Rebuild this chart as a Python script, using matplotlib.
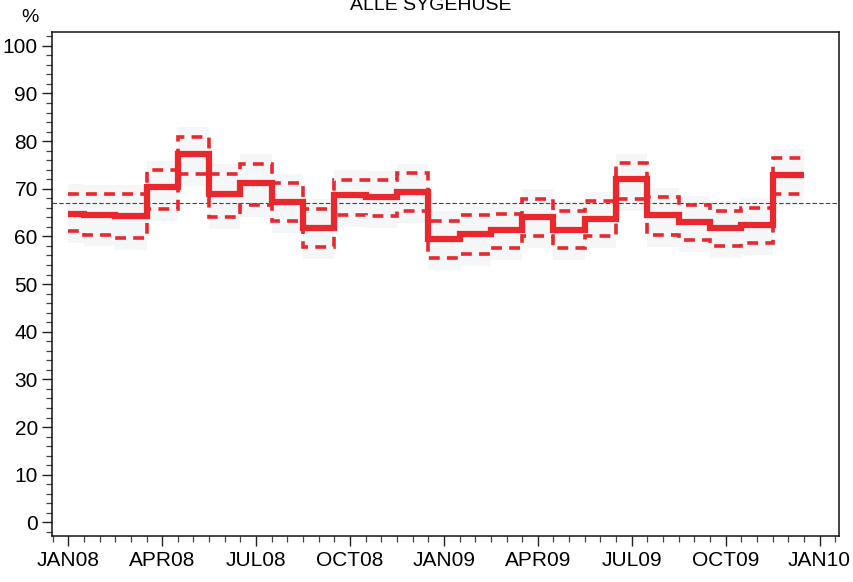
import matplotlib
matplotlib.use("Agg")
import matplotlib.pyplot as plt
from matplotlib.ticker import MultipleLocator, FixedLocator
import numpy as np

plt.rcParams['font.family'] = ['Liberation Sans Narrow', 'Liberation Sans', 'DejaVu Sans']

# Monthly values JAN08 .. DEC09
months = ["JAN08", "FEB08", "MAR08", "APR08", "MAY08", "JUN08", "JUL08", "AUG08",
          "SEP08", "OCT08", "NOV08", "DEC08", "JAN09", "FEB09", "MAR09", "APR09",
          "MAY09", "JUN09", "JUL09", "AUG09", "SEP09", "OCT09", "NOV09", "DEC09"]
value = [64.8, 64.5, 64.2, 70.3, 77.3, 68.9, 71.2, 67.3, 61.8, 68.6, 68.2, 69.3,
         59.5, 60.5, 61.4, 64.0, 61.4, 63.7, 72.1, 64.4, 63.0, 61.8, 62.4, 72.9]
upper = [68.9, 68.8, 68.8, 73.9, 80.9, 73.1, 75.2, 71.2, 65.8, 71.9, 71.8, 73.3,
         63.3, 64.4, 64.8, 67.9, 65.4, 67.4, 75.4, 68.2, 66.5, 65.4, 66.0, 76.4]
lower = [61.1, 60.4, 59.7, 65.8, 73.1, 64.0, 66.5, 63.3, 57.7, 64.4, 64.3, 65.3,
         55.5, 56.3, 57.5, 60.0, 57.5, 60.0, 67.9, 60.2, 59.3, 57.9, 58.6, 69.0]
reference = 67.0
tick_labels = ["JAN08", "APR08", "JUL08", "OCT08", "JAN09", "APR09", "JUL09", "OCT09", "JAN10"]
title = "ALLE SYGEHUSE"

n = len(months)
x = np.arange(n)
# steps change at mid-month; first starts at the first month
edges = np.concatenate([[x[0]], x + 0.5])

value = np.array(value)
upper = np.array(upper)
lower = np.array(lower)

fig = plt.figure(figsize=(8.54, 5.82), dpi=100)
ax = fig.add_axes([0.0605, 0.0796, 0.9223, 0.8654])

red = '#e8282c'
# faint grey band behind each month's interval
ax.stairs(upper + 2.0, edges, baseline=lower - 2.5, fill=True,
          color='#f5f6f8', zorder=1, linewidth=0)
ax.axhline(reference, color='#444444', lw=0.8, ls=(0, (4, 2)), zorder=2)
ax.stairs(upper, edges, baseline=None, color=red, lw=2.6, ls=(0, (3, 2)), zorder=3)
ax.stairs(lower, edges, baseline=None, color=red, lw=2.6, ls=(0, (3, 2)), zorder=3)
ax.stairs(value, edges, baseline=None, color=red, lw=4.5, zorder=4)

ax.set_xlim(-0.53, 24.63)
ax.set_ylim(-2.8, 102.9)

ax.xaxis.set_major_locator(FixedLocator(np.arange(0, 25, 3)))
ax.set_xticklabels(tick_labels)
ax.xaxis.set_minor_locator(MultipleLocator(0.5))
ax.yaxis.set_major_locator(MultipleLocator(10))
ax.yaxis.set_minor_locator(MultipleLocator(2))

ax.tick_params(axis='both', which='major', length=7, width=1.0, direction='out',
               labelsize=15, color='#222222')
ax.tick_params(axis='both', which='minor', length=4, width=0.9, direction='out',
               color='#444444')
ax.tick_params(axis='x', which='major', pad=4)
ax.tick_params(axis='y', which='major', pad=3)
for s in ax.spines.values():
    s.set_linewidth(1.1)
    s.set_color('#111111')

fig.text(30 / 854, 1 - 18 / 582, "%", ha='center', va='center', fontsize=14)
fig.text(431 / 854, 1 - 10 / 582, title, ha='center', va='baseline', fontsize=14)

fig.savefig("out.png", dpi=100)
